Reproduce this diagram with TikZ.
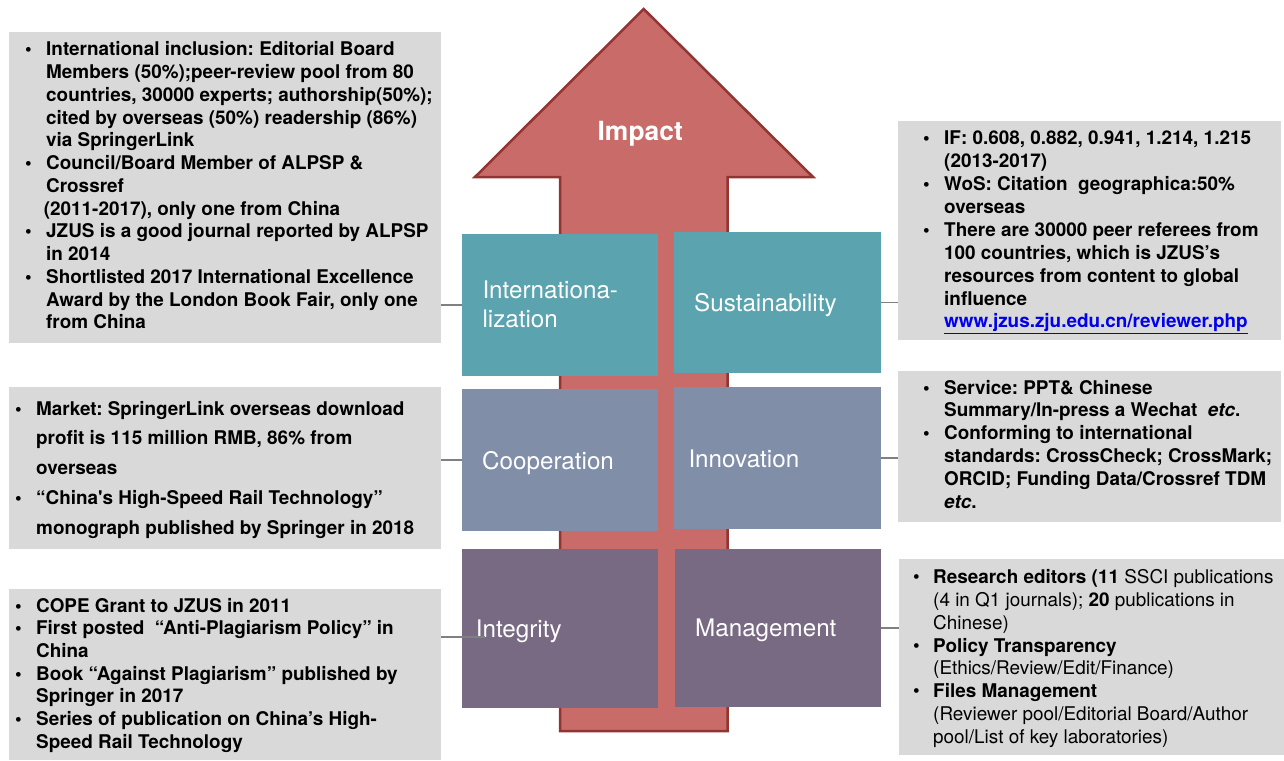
\documentclass[tikz,border=0pt]{standalone}
\usepackage{fontspec}
\defaultfontfeatures[\rmfamily]{Scale=1}
\setmainfont{TeX Gyre Heros}
\usepackage{xcolor}
\frenchspacing

\definecolor{arrowfill}{RGB}{200,107,105}
\definecolor{arrowline}{RGB}{146,52,50}
\definecolor{tealbox}{RGB}{91,163,174}
\definecolor{bluebox}{RGB}{128,142,168}
\definecolor{plumbox}{RGB}{121,106,132}
\definecolor{notegrey}{RGB}{217,217,217}
\definecolor{wire}{RGB}{128,128,128}
\definecolor{linkblue}{RGB}{0,0,238}

% bullet marker and continuation indent for the note lists
\newcommand\bitem[1][21pt]{\makebox[#1][l]{\textbullet}}
\newcommand\bcont[1][21pt]{\hspace*{#1}}

\tikzset{
  bigarrow/.style={fill=arrowfill, draw=arrowline, line width=2.5pt, line join=miter},
  catbox/.style={anchor=north west, inner sep=0pt, draw=none},
  cattext/.style={anchor=base west, inner sep=0pt, text=white,
    font=\fontsize{24.2}{29.4}\selectfont},
  notebox/.style={anchor=north west, inner sep=0pt, draw=none, fill=notegrey},
  notetext/.style={anchor=base west, inner sep=0pt,
    font=\bfseries\fontsize{18.9}{22.8}\selectfont},
  wireline/.style={draw=wire, line width=1.3pt},
}

\begin{document}
\begin{tikzpicture}[x=1pt,y=-1pt]
\useasboundingbox (0,0) rectangle (1284,760);

% upward arrow behind the category blocks
\draw[bigarrow] (643.7,9) -- (813,177) -- (727.7,177) -- (727.7,731)
  -- (560,731) -- (560,177) -- (475,177) -- cycle;
\node[anchor=base, inner sep=0pt, text=white,
  font=\bfseries\fontsize{26.4}{30}\selectfont] (impact) at (640.2,140.7) {Impact};

% category blocks
\node[catbox, fill=tealbox, minimum width=196pt, minimum height=141.7pt] (intl) at (462,234) {};
\node[catbox, fill=tealbox, minimum width=207pt, minimum height=141pt] (sust) at (674,232) {};
\node[catbox, fill=bluebox, minimum width=196pt, minimum height=141.7pt] (coop) at (462,389) {};
\node[catbox, fill=bluebox, minimum width=207pt, minimum height=141.7pt] (innov) at (674,387) {};
\node[catbox, fill=plumbox, minimum width=196pt, minimum height=158.7pt] (integ) at (462,549) {};
\node[catbox, fill=plumbox, minimum width=206pt, minimum height=157.7pt] (mgmt) at (675,549) {};

\node[cattext] (intlT) at (482.3,298.3)
  {\begin{tabular}[t]{@{}l@{}}Internationa-\\lization\end{tabular}};
\node[cattext] (sustT) at (694,311.7) {Sustainability};
\node[cattext] (coopT) at (482,469) {Cooperation};
\node[cattext] (innovT) at (688.3,467.3) {Innovation};
\node[cattext] (integT) at (475.7,637.7) {Integrity};
\node[cattext] (mgmtT) at (695,636.7) {Management};

% note panels
\node[notebox, minimum width=432pt, minimum height=311pt] (tl) at (9,32) {};
\node[notebox, minimum width=383pt, minimum height=219pt] (tr) at (898,121) {};
\node[notebox, minimum width=383pt, minimum height=151pt] (mr) at (898,371) {};
\node[notebox, minimum width=432pt, minimum height=162pt] (ml) at (9,387) {};
\node[notebox, minimum width=432pt, minimum height=171pt] (bl) at (9,589) {};
\node[notebox, minimum width=385pt, minimum height=196pt] (br) at (899,559) {};

\node[notetext, font=\bfseries\fontsize{18.9}{22.75}\selectfont] (tlT) at (25,56) {%
\begin{tabular}[t]{@{}l@{}}
\bitem International inclusion: Editorial Board\\
\bcont Members (50\%);peer-review pool from 80\\
\bcont countries, 30000 experts; authorship(50\%);\\
\bcont cited by overseas (50\%) readership (86\%)\\
\bcont via SpringerLink\\
\bitem Council/Board Member of ALPSP \&\\
\bcont Crossref\\
\bcont\hspace*{-2.3pt}(2011-2017), only one from China\\
\bitem JZUS is a good journal reported by ALPSP\\
\bcont in 2014\\
\bitem Shortlisted 2017 International Excellence\\
\bcont Award by the London Book Fair, only one\\
\bcont from China
\end{tabular}};

\node[notetext, font=\bfseries\fontsize{18.9}{22.96}\selectfont] (trT) at (923,144.3) {%
\begin{tabular}[t]{@{}l@{}}
\bitem IF: 0.608, 0.882, 0.941, 1.214, 1.215\\
\bcont (2013-2017)\\
\bitem WoS: Citation\ \ geographica:50\%\\
\bcont overseas\\
\bitem There are 30000 peer referees from\\
\bcont 100 countries, which is JZUS’s\\
\bcont resources from content to global\\
\bcont influence\\
\bcont\textcolor{linkblue}{\underline{www.jzus.zju.edu.cn/reviewer.php}}
\end{tabular}};

\node[notetext, font=\bfseries\fontsize{18.9}{22.9}\selectfont] (mrT) at (923,394) {%
\begin{tabular}[t]{@{}l@{}}
\bitem Service: PPT\& Chinese\\
\bcont Summary/In-press a Wechat\ \ \textit{etc}.\\
\bitem Conforming to international\\
\bcont standards: CrossCheck; CrossMark;\\
\bcont ORCID; Funding Data/Crossref TDM\\
\bcont\textit{etc}.
\end{tabular}};

\node[notetext, font=\bfseries\fontsize{18.9}{29.75}\selectfont] (mlT) at (15,415) {%
\begin{tabular}[t]{@{}l@{}}
\bitem Market: SpringerLink overseas download\\
\bcont profit is 115 million RMB, 86\% from\\
\bcont overseas\\
\bitem “China's High-Speed Rail Technology”\\
\bcont monograph published by Springer in 2018
\end{tabular}};

\node[notetext, font=\bfseries\fontsize{18.9}{22.67}\selectfont] (blT) at (15,612.3) {%
\begin{tabular}[t]{@{}l@{}}
\bitem COPE Grant to JZUS in 2011\\
\bitem First posted\ \ “Anti-Plagiarism Policy” in\\
\bcont China\\
\bitem Book “Against Plagiarism” published by\\
\bcont Springer in 2017\\
\bitem Series of publication on China’s High-\\
\bcont Speed Rail Technology
\end{tabular}};

\node[notetext, font=\fontsize{18.9}{22.9}\selectfont] (brT) at (913,583.3) {%
\begin{tabular}[t]{@{}l@{}}
\bitem[20pt]\textbf{Research editors (11} SSCI publications\\
\bcont[20pt](4 in Q1 journals); \textbf{20} publications in\\
\bcont[20pt]Chinese)\\
\bitem[20pt]\textbf{Policy Transparency}\\
\bcont[20pt](Ethics/Review/Edit/Finance)\\
\bitem[20pt]\textbf{Files Management}\\
\bcont[20pt](Reviewer pool/Editorial Board/Author\\
\bcont[20pt]pool/List of key laboratories)
\end{tabular}};

% connectors between panels and blocks
\coordinate (integEnd) at (485,637);
\draw[wireline] (tl.east |- intl.west) -- (intl.west);
\draw[wireline] (sust.east) -- (tr.west |- sust.east);
\draw[wireline] (ml.east |- coop.west) -- (coop.west);
\draw[wireline] (innov.east) -- (mr.west |- innov.east);
\draw[wireline] (bl.east |- integEnd) -- (integEnd);
\draw[wireline] (mgmt.east) -- (br.west |- mgmt.east);
\end{tikzpicture}
\end{document}
